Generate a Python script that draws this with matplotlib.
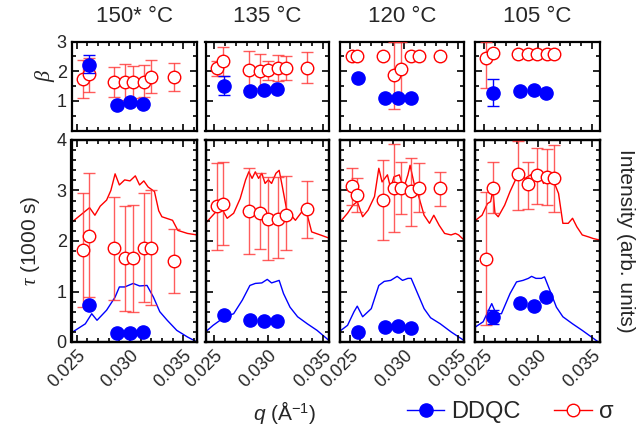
import numpy as np
import matplotlib
matplotlib.use("Agg")
import matplotlib.pyplot as plt
from matplotlib.lines import Line2D
from matplotlib.ticker import MultipleLocator, FixedLocator

plt.rcParams['font.family'] = ['Liberation Sans', 'DejaVu Sans']
plt.rcParams['mathtext.fontset'] = 'custom'
plt.rcParams['mathtext.rm'] = 'Liberation Sans'
plt.rcParams['mathtext.it'] = 'Liberation Serif:italic'
plt.rcParams['mathtext.sf'] = 'Liberation Sans:italic'
txt = '#262626'

# Temperaturas (paneles)
titulos = ["150* °C", "135 °C", "120 °C", "105 °C"]

# Puntos sigma: q, tau (1000 s) con limites de error, beta con limites de error
q_sig = [
    [0.0256, 0.0261, 0.0285, 0.0295, 0.0303, 0.0313, 0.0320, 0.0341],
    [0.0253, 0.0258, 0.0282, 0.0292, 0.0300, 0.0309, 0.0316, 0.0336],
    [0.0252, 0.0257, 0.0281, 0.0291, 0.0298, 0.0307, 0.0314, 0.0334],
    [0.0252, 0.0258, 0.0281, 0.0291, 0.0299, 0.0308, 0.0315],
]
tau_sig = [
    [1.82, 2.10, 1.86, 1.67, 1.67, 1.87, 1.87, 1.60],
    [2.69, 2.74, 2.60, 2.56, 2.43, 2.43, 2.51, 2.64],
    [3.09, 2.91, 2.81, 3.05, 3.05, 2.99, 3.05, 3.04],
    [1.65, 3.04, 3.32, 3.12, 3.31, 3.26, 3.24],
]
tau_sig_lo = [
    [0.69, 0.89, 0.83, 0.61, 0.60, 0.79, 0.73, 0.97],
    [1.82, 1.92, 1.75, 1.85, 1.63, 1.67, 1.82, 2.05],
    [2.71, 2.58, 2.02, 2.18, 2.53, 2.30, 2.57, 2.70],
    [0.33, 2.55, 2.62, 2.64, 2.74, 2.71, 2.58],
]
tau_sig_hi = [
    [2.96, 3.34, 2.88, 2.69, 2.72, 2.96, 3.00, 2.23],
    [3.55, 3.57, 3.44, 3.34, 3.27, 3.26, 3.29, 3.19],
    [3.45, 3.24, 3.60, 3.93, 3.57, 3.65, 3.54, 3.37],
    [2.98, 3.57, 3.99, 3.57, 3.85, 3.82, 3.90],
]
beta_sig = [
    [1.73, 1.90, 1.64, 1.64, 1.64, 1.64, 1.81, 1.79],
    [2.10, 2.35, 2.03, 2.02, 2.03, 2.10, 2.10, 2.10],
    [2.51, 2.51, 2.51, 1.87, 2.06, 2.51, 2.51, 2.51],
    [2.46, 2.61, 2.58, 2.58, 2.58, 2.58, 2.58],
]
nan = np.nan
beta_sig_lo = [
    [1.08, 1.31, 1.14, 1.02, 1.08, 1.14, 1.25, 1.34],
    [1.85, 1.83, 1.38, 1.43, 1.71, 1.66, 1.71, 1.60],
    [nan, nan, nan, 0.72, 1.10, nan, nan, nan],
    [1.42, nan, nan, nan, nan, nan, nan],
]
beta_sig_hi = [
    [2.36, 2.45, 2.15, 2.24, 2.18, 2.21, 2.38, 2.27],
    [2.35, 2.83, 2.67, 2.59, 2.33, 2.55, 2.50, 2.63],
    [nan, nan, nan, 2.98, 2.98, nan, nan, nan],
    [2.98, nan, nan, nan, nan, nan, nan],
]

# Puntos DDQC
q_dd = [
    [0.0261, 0.0288, 0.0300, 0.0312],
    [0.0259, 0.0283, 0.0296, 0.0308],
    [0.0258, 0.0283, 0.0295, 0.0307],
    [0.0258, 0.0283, 0.0296, 0.0307],
]
tau_dd = [
    [0.74, 0.17, 0.18, 0.19],
    [0.53, 0.43, 0.41, 0.41],
    [0.20, 0.30, 0.32, 0.28],
    [0.50, 0.77, 0.72, 0.89],
]
tau_dd_lo = [
    [nan, nan, nan, nan],
    [0.47, nan, nan, nan],
    [nan, nan, nan, nan],
    [0.36, nan, nan, nan],
]
tau_dd_hi = [
    [nan, nan, nan, nan],
    [0.60, nan, nan, nan],
    [nan, nan, nan, nan],
    [0.64, nan, nan, nan],
]
beta_dd = [
    [2.21, 0.85, 0.97, 0.89],
    [1.51, 1.32, 1.38, 1.40],
    [1.76, 1.11, 1.09, 1.11],
    [1.28, 1.34, 1.37, 1.28],
]
beta_dd_lo = [
    [1.95, nan, nan, nan],
    [1.18, nan, nan, nan],
    [nan, nan, nan, nan],
    [0.81, nan, nan, nan],
]
beta_dd_hi = [
    [2.55, nan, nan, nan],
    [1.83, nan, nan, nan],
    [nan, nan, nan, nan],
    [1.72, nan, nan, nan],
]

# Perfiles de intensidad (unidades arb.)
q_int_sig = [
    [0.0244, 0.0262, 0.0267, 0.0272, 0.0278, 0.0282, 0.0286, 0.0290, 0.0295, 0.0300, 0.0305,
     0.0309, 0.0313, 0.0317, 0.0323, 0.0327, 0.0330, 0.0340, 0.0345, 0.0354, 0.0363],
    [0.0242, 0.0253, 0.0257, 0.0262, 0.0268, 0.0274, 0.0279, 0.0282, 0.0285, 0.0288, 0.0291,
     0.0294, 0.0297, 0.0300, 0.0303, 0.0307, 0.0310, 0.0313, 0.0317, 0.0325, 0.0331, 0.0336,
     0.0340, 0.0348, 0.0357],
    [0.0240, 0.0248, 0.0253, 0.0257, 0.0262, 0.0267, 0.0273, 0.0277, 0.0280, 0.0285, 0.0288,
     0.0291, 0.0296, 0.0300, 0.0304, 0.0306, 0.0310, 0.0314, 0.0319, 0.0324, 0.0328, 0.0333,
     0.0338, 0.0344, 0.0348, 0.0351, 0.0356],
    [0.0242, 0.0248, 0.0253, 0.0256, 0.0258, 0.0260, 0.0263, 0.0269, 0.0274, 0.0279, 0.0283,
     0.0288, 0.0293, 0.0297, 0.0302, 0.0305, 0.0311, 0.0314, 0.0319, 0.0323, 0.0328, 0.0332,
     0.0336, 0.0341, 0.0347, 0.0351, 0.0357],
]
int_sig = [
    [2.35, 2.66, 2.51, 2.69, 2.81, 3.00, 3.33, 3.11, 3.21, 3.19, 3.29,
     3.11, 3.19, 3.07, 2.98, 2.60, 2.48, 2.41, 2.21, 2.15, 2.12],
    [2.35, 2.61, 2.64, 2.45, 2.55, 2.84, 3.21, 3.37, 3.24, 3.37, 3.24,
     3.34, 3.14, 3.21, 3.14, 3.34, 3.40, 3.07, 2.61, 2.41, 2.58, 2.51,
     2.18, 2.12, 2.05],
    [2.35, 2.55, 2.71, 2.78, 2.48, 2.61, 2.88, 3.44, 3.17, 3.31, 3.04,
     3.27, 3.31, 3.04, 3.31, 3.50, 3.11, 2.88, 2.51, 2.35, 2.51, 2.31,
     2.15, 2.12, 2.15, 2.12, 2.02],
    [2.41, 2.51, 2.74, 2.78, 3.01, 2.55, 2.48, 2.71, 2.98, 3.21, 3.31,
     3.24, 3.31, 3.24, 3.34, 3.14, 3.31, 3.21, 2.94, 2.35, 2.35, 2.45,
     2.28, 2.12, 2.08, 2.05, 2.02],
]
q_int_dd = [
    [0.0244, 0.0258, 0.0264, 0.0269, 0.0278, 0.0286, 0.0290, 0.0295, 0.0303, 0.0309, 0.0316,
     0.0322, 0.0328, 0.0335, 0.0344, 0.0354, 0.0363],
    [0.0242, 0.0249, 0.0260, 0.0268, 0.0276, 0.0283, 0.0288, 0.0294, 0.0299, 0.0303, 0.0310,
     0.0314, 0.0320, 0.0327, 0.0336, 0.0345, 0.0356],
    [0.0240, 0.0248, 0.0254, 0.0257, 0.0262, 0.0270, 0.0277, 0.0282, 0.0288, 0.0294, 0.0299,
     0.0304, 0.0307, 0.0313, 0.0319, 0.0325, 0.0334, 0.0344, 0.0356],
    [0.0242, 0.0249, 0.0257, 0.0261, 0.0266, 0.0274, 0.0280, 0.0286, 0.0291, 0.0294, 0.0298,
     0.0303, 0.0306, 0.0311, 0.0317, 0.0323, 0.0332, 0.0341, 0.0356],
]
int_dd = [
    [0.17, 0.36, 0.56, 0.43, 0.63, 0.89, 1.09, 1.09, 1.16, 1.11, 1.12,
     0.89, 0.60, 0.43, 0.23, 0.10, 0.00],
    [0.20, 0.33, 0.50, 0.56, 0.83, 1.12, 1.16, 1.17, 1.24, 1.17, 1.22,
     0.96, 0.69, 0.50, 0.36, 0.23, 0.03],
    [0.20, 0.33, 0.60, 0.71, 0.50, 0.66, 1.12, 1.20, 1.22, 1.30, 1.22,
     1.26, 1.26, 0.96, 0.66, 0.48, 0.36, 0.20, 0.03],
    [0.30, 0.40, 0.76, 0.56, 0.56, 0.96, 1.19, 1.22, 1.26, 1.30, 1.26,
     1.26, 1.29, 1.02, 0.69, 0.50, 0.36, 0.23, 0.00],
]

xlims = [(0.0245, 0.0363), (0.0242, 0.0356), (0.0241, 0.0356), (0.0241, 0.0357)]

fig = plt.figure(figsize=(6.44, 4.45), dpi=100)
W, H = 644.0, 445.0
izq = [71.5, 205.5, 340, 474.5]
der = [197, 329, 464, 599.5]


def estilo(ax):
    for s in ax.spines.values():
        s.set_linewidth(1.6)
    ax.tick_params(which='both', direction='in', top=True, right=True,
                   width=1.2, colors='black', labelcolor=txt, labelsize=13)
    ax.tick_params(which='major', length=5)
    ax.tick_params(which='minor', length=3)
    ax.xaxis.set_major_locator(MultipleLocator(0.005))
    ax.xaxis.set_minor_locator(MultipleLocator(0.001))


def puntos(ax, q, v, lo, hi, dd):
    v = np.array(v)
    err = [v - np.array(lo), np.array(hi) - v]
    if dd:
        ax.errorbar(q, v, yerr=err, fmt='o', ms=9.5, mfc='blue', mec='blue',
                    ecolor='blue', elinewidth=1, capsize=4, zorder=5)
    else:
        ax.errorbar(q, v, yerr=err, fmt='o', ms=9, mfc='white', mec='red', mew=1,
                    ecolor=(1, 0.2, 0.2, 0.8), elinewidth=1, capsize=4, zorder=4)


for i in range(4):
    x0 = izq[i] / W
    w = (der[i] - izq[i]) / W
    axb = fig.add_axes([x0, 1 - 130.5 / H, w, 89 / H])
    axt = fig.add_axes([x0, 1 - 342 / H, w, 202 / H])

    # beta
    puntos(axb, q_sig[i], beta_sig[i], beta_sig_lo[i], beta_sig_hi[i], False)
    puntos(axb, q_dd[i], beta_dd[i], beta_dd_lo[i], beta_dd_hi[i], True)
    axb.set_ylim(0, 3)
    axb.set_xlim(*xlims[i])
    axb.yaxis.set_major_locator(FixedLocator([1, 2, 3]))
    axb.yaxis.set_minor_locator(MultipleLocator(0.5))
    estilo(axb)
    axb.tick_params(labelbottom=False)
    axb.set_title(titulos[i], fontsize=16, color=txt, pad=14)

    # intensidad en eje gemelo
    axi = axt.twinx()
    axi.plot(q_int_sig[i], int_sig[i], color='red', lw=1)
    axi.plot(q_int_dd[i], int_dd[i], color='blue', lw=1)
    axi.set_ylim(0, 4)
    axi.tick_params(right=False, labelright=False)
    axt.set_zorder(axi.get_zorder() + 1)
    axt.patch.set_visible(False)

    # tau
    puntos(axt, q_sig[i], tau_sig[i], tau_sig_lo[i], tau_sig_hi[i], False)
    puntos(axt, q_dd[i], tau_dd[i], tau_dd_lo[i], tau_dd_hi[i], True)
    axt.set_ylim(0, 4)
    axt.set_xlim(*xlims[i])
    axi.set_xlim(*xlims[i])
    axt.yaxis.set_major_locator(MultipleLocator(1))
    axt.yaxis.set_minor_locator(MultipleLocator(0.2))
    estilo(axt)
    for s in axi.spines.values():
        s.set_linewidth(1.6)
    for lab in axt.get_xticklabels():
        lab.set_rotation(45)
        lab.set_ha('right')
        lab.set_rotation_mode('anchor')

    if i > 0:
        axb.tick_params(labelleft=False)
        axt.tick_params(labelleft=False)

fig.text(0.07, 1 - 75 / H, r'$\beta$', fontsize=16, color=txt, rotation=90,
         ha='center', va='center')
fig.text(0.047, 1 - 241 / H, r'$\tau$ (1000 s)', fontsize=15, color=txt, rotation=90,
         ha='center', va='center')
fig.text(0.972, 1 - 241 / H, 'Intensity (arb. units)', fontsize=15, color=txt,
         rotation=270, ha='center', va='center')
fig.text(285 / W, 1 - 412 / H, r'$\mathsf{q}$ (Å$^{-1}$)', fontsize=15, color=txt,
         ha='center', va='center')

h_dd = Line2D([], [], color='blue', marker='o', ms=9.5, mfc='blue', lw=1)
h_sig = Line2D([], [], color='red', marker='o', ms=9, mfc='white', lw=1)
fig.legend([h_dd, h_sig], ['DDQC', 'σ'], loc='center', bbox_to_anchor=(510 / W, 1 - 412 / H),
           ncol=2, frameon=False, fontsize=17, handlelength=1.6, handletextpad=0.3,
           columnspacing=1.4, labelcolor=txt)

fig.savefig('out.png', dpi=100)
